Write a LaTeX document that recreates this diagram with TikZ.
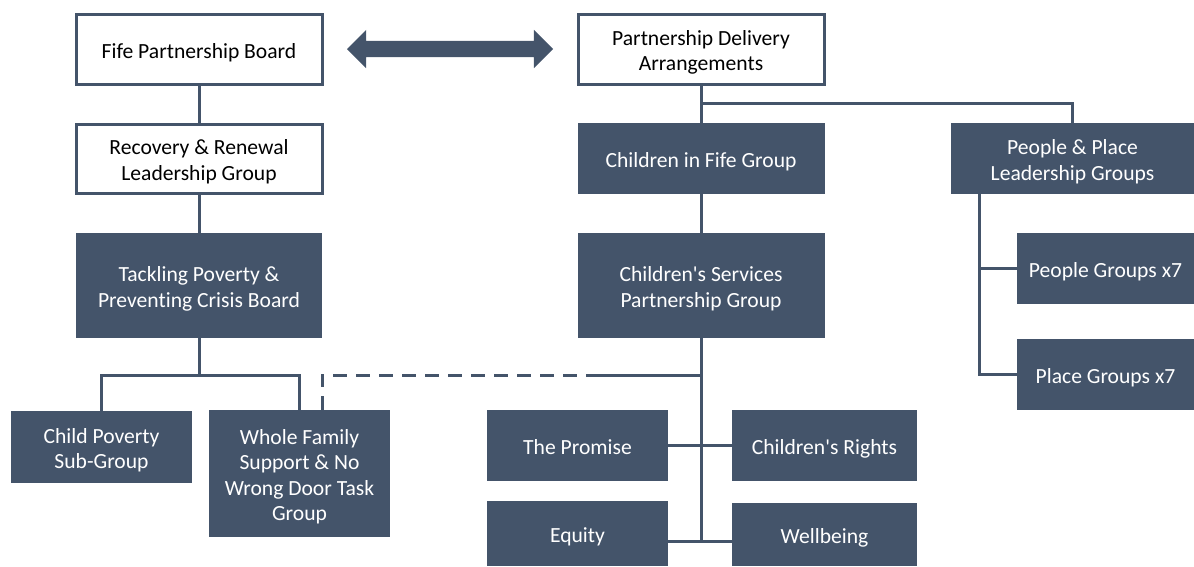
\documentclass[tikz,border=0pt]{standalone}
\usepackage{fontspec}
\newfontfamily\carl{Carlito}[Ligatures={NoCommon}]
\usetikzlibrary{shapes.arrows,calc}
\definecolor{navy}{HTML}{44546A}
\newcommand\mys{\rule{0pt}{23pt}}
\newcommand\mye{\rule[-5pt]{0pt}{5pt}}
\begin{document}
\begin{tikzpicture}[x=1pt,y=-1pt,
  every node/.style={font=\carl\fontsize{21.6}{25.5}\selectfont, align=center, inner sep=0pt},
  obox/.style={draw=navy, line width=3pt, fill=white, text=black},
  fbox/.style={fill=navy, text=white},
  conn/.style={draw=navy, line width=3pt}]
\useasboundingbox (0,0) rectangle (1194,566);
% top row
\node[obox, minimum width=246, minimum height=70] (fpb) at (199,49) {\mys Fife Partnership Board\mye};
\node[obox, minimum width=246, minimum height=70] (pda) at (701,49) {\mys Partnership Delivery\\Arrangements\mye};
\node[double arrow, fill=navy, inner sep=8pt, minimum height=206, double arrow head extend=11pt, double arrow tip angle=90] (arr) at (450,49) {};
% second row
\node[obox, minimum width=246, minimum height=69] (rr) at (199,158.5) {\mys Recovery \& Renewal\\Leadership Group\mye};
\node[fbox, minimum width=247, minimum height=71] (cif) at (701,158.5) {\mys Children in Fife Group\mye};
\node[fbox, minimum width=243, minimum height=71] (pp) at (1072.5,158.5) {\mys People \& Place\\Leadership Groups\mye};
% third row
\node[fbox, minimum width=246, minimum height=105] (tp) at (199,285.5) {\mys Tackling Poverty \&\\Preventing Crisis Board\mye};
\node[fbox, minimum width=247, minimum height=105] (csp) at (701,285.5) {\mys Children's Services\\Partnership Group\mye};
\node[fbox, minimum width=177, minimum height=71] (pg) at (1105.5,268.5) {\mys People Groups x7\mye};
\node[fbox, minimum width=177, minimum height=71] (plg) at (1105.5,374.5) {\mys Place Groups x7\mye};
% lower
\node[fbox, minimum width=181, minimum height=72] (cp) at (101.5,447) {\mys Child Poverty\\Sub-Group\mye};
\node[fbox, minimum width=181, minimum height=127] (wf) at (299.5,473.5) {\mys Whole Family\\Support \& No\\Wrong Door Task\\Group\mye};
\node[fbox, minimum width=181, minimum height=71] (prom) at (577.5,445.5) {\mys The Promise\mye};
\node[fbox, minimum width=185, minimum height=71] (cr) at (824.5,445.5) {\mys Children's Rights\mye};
\node[fbox, minimum width=181, minimum height=65] (eq) at (577.5,533.5) {\mys Equity\mye};
\node[fbox, minimum width=185, minimum height=63] (wb) at (824.5,534.5) {\mys Wellbeing\mye};
% junctions
\coordinate (jl) at (199,375);
\coordinate (jr) at (701,375);
\coordinate (dend) at (600,375);
\coordinate (jt) at (701,103);
\coordinate (jb) at (701,541);
\coordinate (k) at ([xshift=29pt]pp.south west);
% connectors
\draw[conn] (fpb.south) -- (rr.north);
\draw[conn] (rr.south) -- (tp.north);
\draw[conn] (tp.south) -- (jl);
\draw[conn] (cp.north) |- (jl) -| (wf.north);
\draw[conn, dash pattern=on 14pt off 9pt] ([xshift=22.5pt]wf.north) |- (dend);
\draw[conn] (dend) -- (jr);
\draw[conn] (pda.south) -- (cif.north);
\draw[conn] (jt) -| (pp.north);
\draw[conn] (cif.south) -- (csp.north);
\draw[conn] (csp.south) -- (jb);
\draw[conn] (prom.east) -- (cr.west);
\draw[conn] (jb -| eq.east) -- (jb -| wb.west);
\draw[conn] (k) |- (plg.west);
\draw[conn] (pg.west) -- (pg.west -| k);
\end{tikzpicture}
\end{document}
